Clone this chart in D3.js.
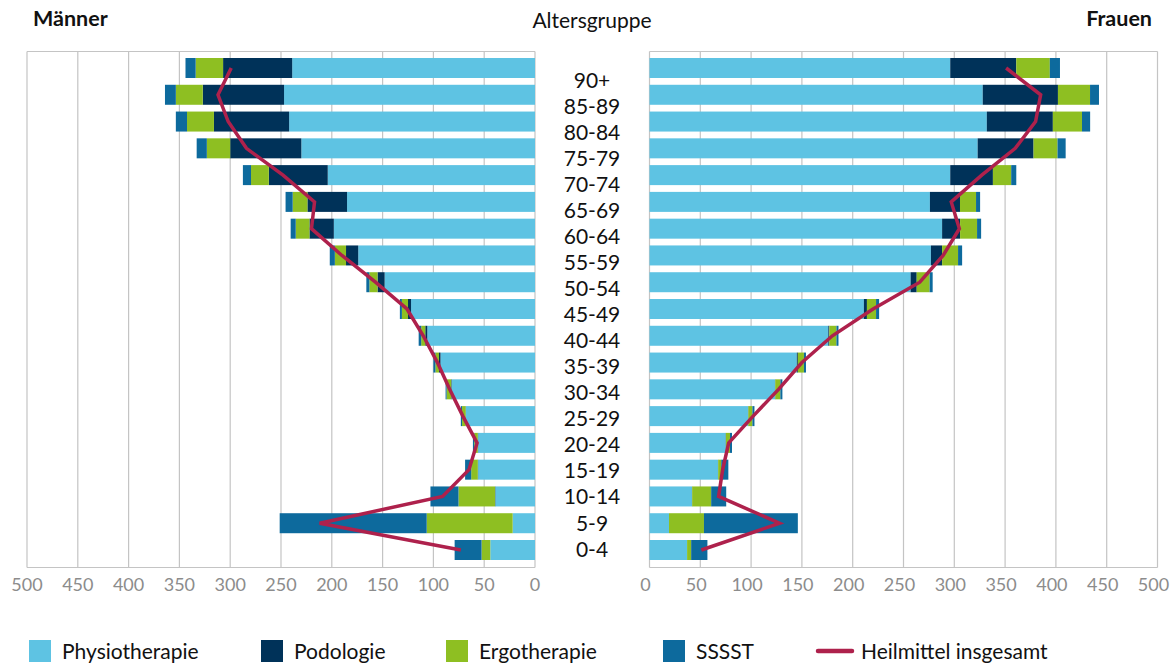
<!DOCTYPE html>
<html>
<head>
<meta charset="utf-8">
<script src="https://cdn.jsdelivr.net/npm/d3@7"></script>
<style>
  html, body { margin: 0; padding: 0; background: #fff; }
  svg { display: block; font-family: Lato, "Open Sans", sans-serif; }
</style>
</head>
<body>
<svg id="chart" width="1176" height="663"></svg>
<script>
// ---------- data ----------
const categories = ["90+","85-89","80-84","75-79","70-74","65-69","60-64","55-59","50-54","45-49","40-44","35-39","30-34","25-29","20-24","15-19","10-14","5-9","0-4"];

const physioM = [239,247,242,230,204,185,198,174,148,122,106,93,82,68,56,56,39,22,44];
const podoM   = [68,80,74,70,58,39,24,12,7,3,2,1.5,0.5,0.3,0.3,0.3,0.3,0,0];
const ergoM   = [27,26.5,26.5,23,17.5,14.5,13.5,11,8,6,4,3.5,4.5,3.5,3.5,6.5,36,84.6,8.6];
const sssstM  = [10,10.7,11,10,8,7,5,5,3,2,2.5,2,1,1.2,1.3,6,27.6,144.7,26.5];
const totalM  = [299,312,302,284,248,217,220,190,157,126,110,96,84,71,57,65,91,212,73];

const physioF = [296,328,332,323,296,276,288,277,257,211,176,145,123.5,97,75,67.4,41.8,19.2,37];
const podoF   = [65,74,65,55,42,29.6,17.7,11,6,3,1,1,0.3,0.3,0.2,0.2,0.2,0,0];
const ergoF   = [33,31.6,28.7,23.6,18,15.8,16.7,15.7,12.7,9,7,6,5,4,4,3,18.7,34.4,4];
const sssstF  = [10,8.8,8,8,5,4,4,4,3,3,2,2,2,2,2,7,14.8,92.4,16];
const totalF  = [351,385,380,360,327,297,305,289,266,220,180,150,127,102,78,72,68,128,51];

const seriesNames = ["Physiotherapie","Podologie","Ergotherapie","SSSST"];
const lineName = "Heilmittel insgesamt";
const tickValues = [0,50,100,150,200,250,300,350,400,450,500];
const colors = {"Physiotherapie":"#5EC3E3","Podologie":"#003259","Ergotherapie":"#8EBF22","SSSST":"#0D6A9D"};
const lineColor = "#AE214C";

// ---------- layout ----------
const svg = d3.select("#chart");
const plotTop = 51.5, plotBottom = 567.5;
const xL = d3.scaleLinear().domain([0,500]).range([535,27]);
const xR = d3.scaleLinear().domain([0,500]).range([649.5,1157.5]);
const yBar = d3.scalePoint().domain(categories).range([68,550]);
const yLab = d3.scalePoint().domain(categories).range([80,549]);
const barH = 20;

function rows(p, po, e, s) {
  return categories.map((c,i) => ({cat:c, "Physiotherapie":p[i], "Podologie":po[i], "Ergotherapie":e[i], "SSSST":s[i]}));
}
const stack = d3.stack().keys(seriesNames);

function panel(x, data, totals, labelShift) {
  const g = svg.append("g");
  g.selectAll("line.grid").data(tickValues).join("line")
    .attr("x1", d => x(d)).attr("x2", d => x(d))
    .attr("y1", plotTop).attr("y2", plotBottom)
    .attr("stroke", "#C4C4C4").attr("stroke-width", 1.2);
  g.append("line").attr("x1", x(0)).attr("x2", x(500)).attr("y1", plotTop).attr("y2", plotTop)
    .attr("stroke", "#C4C4C4").attr("stroke-width", 1.2);
  g.append("line").attr("x1", x(0)).attr("x2", x(500)).attr("y1", plotBottom).attr("y2", plotBottom)
    .attr("stroke", "#C4C4C4").attr("stroke-width", 1.2);
  const st = stack(data);
  g.selectAll("g.series").data(st).join("g")
    .attr("fill", d => colors[d.key])
    .selectAll("rect").data(d => d).join("rect")
      .attr("x", d => Math.min(x(d[0]), x(d[1])))
      .attr("width", d => Math.abs(x(d[1]) - x(d[0])))
      .attr("y", d => yBar(d.data.cat) - barH/2)
      .attr("height", barH);
  const line = d3.line().x(d => x(d)).y((d,i) => yBar(categories[i]));
  g.append("path").datum(totals)
    .attr("d", line).attr("fill", "none")
    .attr("stroke", lineColor).attr("stroke-width", 3.5)
    .attr("stroke-linejoin", "miter");
  g.selectAll("text.tick").data(tickValues).join("text")
    .attr("x", d => x(d) + labelShift).attr("y", 591)
    .attr("text-anchor", "middle")
    .attr("fill", "#8C8C8C").attr("font-size", 18)
    .text(d => d);
}

panel(xL, rows(physioM, podoM, ergoM, sssstM), totalM, 0);
panel(xR, rows(physioF, podoF, ergoF, sssstF), totalF, -4);

svg.selectAll("text.cat").data(categories).join("text")
  .attr("x", 592).attr("y", d => yLab(d))
  .attr("dy", "0.36em")
  .attr("text-anchor", "middle").attr("font-size", 21).attr("fill", "#111")
  .text(d => d);

svg.append("text").attr("x", 33).attr("y", 26).attr("font-size", 21.5).attr("font-weight", "bold").attr("fill", "#111").text("Männer");
svg.append("text").attr("x", 1152).attr("y", 26).attr("text-anchor", "end").attr("font-size", 21.5).attr("font-weight", "bold").attr("fill", "#111").text("Frauen");
svg.append("text").attr("x", 592).attr("y", 28).attr("text-anchor", "middle").attr("font-size", 21).attr("fill", "#111").text("Altersgruppe");

const legendItems = [
  {name:"Physiotherapie", x:29, type:"rect"},
  {name:"Podologie", x:261, type:"rect"},
  {name:"Ergotherapie", x:446, type:"rect"},
  {name:"SSSST", x:663, type:"rect"},
  {name:lineName, x:816, type:"line"}
];
const lg = svg.append("g");
legendItems.forEach(it => {
  if (it.type === "rect") {
    lg.append("rect").attr("x", it.x).attr("y", 640).attr("width", 22).attr("height", 22).attr("fill", colors[it.name]);
    lg.append("text").attr("x", it.x + 33).attr("y", 651).attr("dy", "0.36em").attr("font-size", 21).attr("fill", "#111").text(it.name);
  } else {
    lg.append("line").attr("x1", it.x + 2).attr("x2", it.x + 36).attr("y1", 651).attr("y2", 651)
      .attr("stroke", lineColor).attr("stroke-width", 4.5).attr("stroke-linecap", "round");
    lg.append("text").attr("x", it.x + 45).attr("y", 651).attr("dy", "0.36em").attr("font-size", 21).attr("fill", "#111").text(it.name);
  }
});
</script>
</body>
</html>
